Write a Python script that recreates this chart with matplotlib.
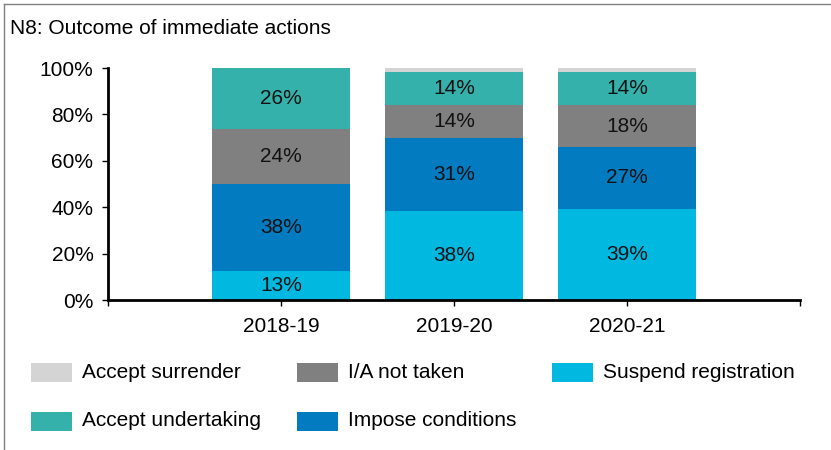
import matplotlib
matplotlib.use("Agg")
import matplotlib.pyplot as plt
from matplotlib.lines import Line2D
from matplotlib.patches import Rectangle

plt.rcParams['font.family'] = ['Liberation Sans', 'DejaVu Sans']

years = ["2018-19", "2019-20", "2020-21"]
series_names = ["Suspend registration", "Impose conditions", "I/A not taken",
                "Accept undertaking", "Accept surrender"]
suspend = [12.5, 38.4, 39.2]
impose = [37.5, 31.4, 26.8]
not_taken = [23.7, 14.2, 18.0]
undertaking = [26.3, 14.4, 14.4]
surrender = [0.0, 1.6, 1.6]
labels_suspend = ["13%", "38%", "39%"]
labels_impose = ["38%", "31%", "27%"]
labels_not_taken = ["24%", "14%", "18%"]
labels_undertaking = ["26%", "14%", "14%"]

colors = {
    "Suspend registration": "#00B8E0",
    "Impose conditions": "#037BC1",
    "I/A not taken": "#808080",
    "Accept undertaking": "#34B1AA",
    "Accept surrender": "#D4D4D4",
}

W, H = 831, 450
fig = plt.figure(figsize=(W/100, H/100), dpi=100)
ax = fig.add_axes([108/W, 1-300/H, (800-108)/W, (300-68)/H])

xs = [1, 2, 3]
data = [suspend, impose, not_taken, undertaking, surrender]
labs = [labels_suspend, labels_impose, labels_not_taken, labels_undertaking, None]
bottom = [0, 0, 0]
for name, vals, lab in zip(series_names, data, labs):
    ax.bar(xs, vals, 0.8, bottom=bottom, color=colors[name], linewidth=0)
    if lab:
        for x, b, v, t in zip(xs, bottom, vals, lab):
            ax.text(x, b + v/2, t, ha='center', va='center', fontsize=15, color='#111111')
    bottom = [b + v for b, v in zip(bottom, vals)]

ax.set_xlim(0, 4)
ax.set_ylim(0, 100)
ax.set_xticks([0, 1, 2, 3, 4])
ax.set_xticklabels(["", years[0], years[1], years[2], ""])
ax.set_yticks([0, 20, 40, 60, 80, 100])
ax.set_yticklabels([f"{v}%" for v in [0, 20, 40, 60, 80, 100]])
ax.tick_params(axis='both', labelsize=15, length=4.5, width=1, colors='black', direction='out')
ax.tick_params(axis='x', pad=8)
ax.tick_params(axis='y', pad=6)
for s in ['top', 'right']:
    ax.spines[s].set_visible(False)
for s in ['left', 'bottom']:
    ax.spines[s].set_linewidth(2)
    ax.spines[s].set_color('black')

fig.text(10/W, 1-29/H, "N8: Outcome of immediate actions", fontsize=15, va='center', ha='left')

# legend (fixed grid as in the reference)
legend_items = [
    ("Accept surrender", 31, 372),
    ("I/A not taken", 297, 372),
    ("Suspend registration", 552, 372),
    ("Accept undertaking", 31, 421),
    ("Impose conditions", 297, 421),
]
for name, px, py in legend_items:
    fig.add_artist(Rectangle((px/W, 1-(py+9.5)/H), 41/W, 19/H, facecolor=colors[name],
                             edgecolor='none', transform=fig.transFigure))
    fig.text((px+51)/W, 1-py/H, name, fontsize=15, va='center', ha='left')

# border lines (top and left)
fig.add_artist(Line2D([4/W, 1], [1-4/H, 1-4/H], color='#808080', lw=1, transform=fig.transFigure))
fig.add_artist(Line2D([4/W, 4/W], [0, 1-4/H], color='#808080', lw=1, transform=fig.transFigure))

fig.savefig("out.png", dpi=100)
